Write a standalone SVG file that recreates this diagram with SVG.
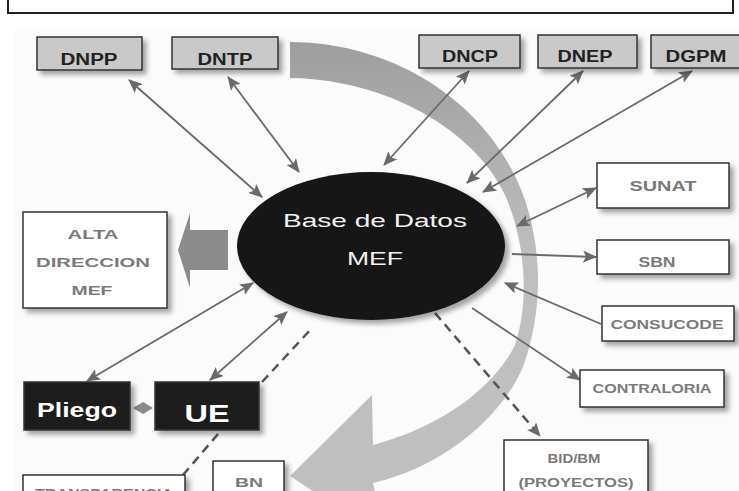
<svg xmlns="http://www.w3.org/2000/svg" width="739" height="491" viewBox="0 0 739 491">
<style>
.box{stroke:#333;stroke-width:1.5}
.gbox{fill:#c9c9c9}
.wbox{fill:#fff}
.kbox{fill:#1c1c1c}
.t{font-family:"Liberation Sans",Arial,sans-serif;text-anchor:middle}
.tb{font-weight:bold;fill:#222;font-size:16px}
.tg{font-weight:bold;fill:#7a7a7a}
.tw{font-weight:bold;fill:#fff}
.ln{stroke:#6a6a6a;stroke-width:1.8;fill:none}
.dash{stroke:#555;stroke-width:2.5;stroke-dasharray:9 6;fill:none}
</style>
<defs>
<filter id="sh" x="-20%" y="-20%" width="150%" height="160%">
<feDropShadow dx="4" dy="4" stdDeviation="2.5" flood-color="#000" flood-opacity="0.35"/>
</filter>
<linearGradient id="bandg" gradientUnits="userSpaceOnUse" x1="0" y1="42" x2="0" y2="260">
<stop offset="0" stop-color="#9e9e9e"/>
<stop offset="1" stop-color="#bfbfbf"/>
</linearGradient>
<marker id="ah" markerWidth="14" markerHeight="12" refX="13" refY="6" orient="auto-start-reverse" markerUnits="userSpaceOnUse">
<path d="M0,0 L14,6 L0,12 L3,6 z" fill="#6a6a6a"/>
</marker>
</defs>
<rect x="0" y="0" width="739" height="491" fill="#fff"/>
<rect x="15" y="28" width="724" height="463" fill="#fbfbfb"/>
<path d="M8,0 V13 H733 V0" fill="none" stroke="#222" stroke-width="2"/>

<g id="bigArrow">
<path d="M290,42 C390,42 490,100 525,200 C545,260 540,320 523,367 C500,420 440,468 373,483 L386,540 L290,476 L372,395 L373,445 C430,430 490,395 515,345 C530,300 525,240 505,195 C480,140 400,80 290,78 Z" fill="url(#bandg)"/>
</g>
<g id="leftArrow">
<polygon points="228,230 190,230 190,213 178,250 190,288 190,270 228,270" fill="#8c8c8c"/>
</g>

<g id="connectors">
<line class="ln" x1="129" y1="80" x2="262" y2="197" marker-start="url(#ah)" marker-end="url(#ah)"/>
<line class="ln" x1="228" y1="77" x2="299" y2="172" marker-start="url(#ah)" marker-end="url(#ah)"/>
<line class="ln" x1="469" y1="71" x2="384" y2="165" marker-start="url(#ah)" marker-end="url(#ah)"/>
<line class="ln" x1="583" y1="71" x2="467" y2="183" marker-start="url(#ah)" marker-end="url(#ah)"/>
<line class="ln" x1="692" y1="71" x2="483" y2="192" marker-start="url(#ah)" marker-end="url(#ah)"/>
<line class="ln" x1="517" y1="226" x2="596" y2="188" marker-start="url(#ah)" marker-end="url(#ah)"/>
<line class="ln" x1="512" y1="254" x2="596" y2="257" marker-end="url(#ah)"/>
<line class="ln" x1="601" y1="324" x2="505" y2="283" marker-end="url(#ah)"/>
<line class="ln" x1="472" y1="308" x2="580" y2="380" marker-end="url(#ah)"/>
<line class="dash" x1="435" y1="313" x2="540" y2="436" marker-end="url(#ah)"/>
<line class="ln" x1="87" y1="381" x2="253" y2="283" marker-start="url(#ah)" marker-end="url(#ah)"/>
<line class="ln" x1="210" y1="380" x2="287" y2="312" marker-start="url(#ah)" marker-end="url(#ah)"/>
<line class="dash" x1="262" y1="382" x2="313" y2="327"/>
<line class="dash" x1="218" y1="434" x2="183" y2="475"/>
<polygon points="133,408 143,402 153,408 143,414" fill="#8a8a8a"/>
</g>

<g id="db" filter="url(#sh)">
<ellipse cx="371" cy="246" rx="134" ry="74" fill="#141414"/>
</g>
<g id="db-text">
<text class="t" x="375" y="227" font-size="19" fill="#f2f2f2" textLength="184" lengthAdjust="spacingAndGlyphs">Base de Datos</text>
<text class="t" x="375" y="265" font-size="19" fill="#f2f2f2" textLength="56" lengthAdjust="spacingAndGlyphs">MEF</text>
</g>

<g id="DNPP"><rect class="box gbox" x="37" y="37" width="105" height="33" filter="url(#sh)"/><text class="t tb" x="89" y="65" textLength="57" lengthAdjust="spacingAndGlyphs">DNPP</text></g>
<g id="DNTP"><rect class="box gbox" x="172" y="37" width="106" height="32" filter="url(#sh)"/><text class="t tb" x="225" y="65" textLength="55" lengthAdjust="spacingAndGlyphs">DNTP</text></g>
<g id="DNCP"><rect class="box gbox" x="419" y="35" width="101" height="33" filter="url(#sh)"/><text class="t tb" x="470" y="62" textLength="56" lengthAdjust="spacingAndGlyphs">DNCP</text></g>
<g id="DNEP"><rect class="box gbox" x="538" y="35" width="99" height="33" filter="url(#sh)"/><text class="t tb" x="585" y="62" textLength="55" lengthAdjust="spacingAndGlyphs">DNEP</text></g>
<g id="DGPM"><rect class="box gbox" x="651" y="35" width="95" height="33" filter="url(#sh)"/><text class="t tb" x="696" y="62" textLength="61" lengthAdjust="spacingAndGlyphs">DGPM</text></g>

<g id="SUNAT"><rect class="box wbox" x="597" y="163" width="132" height="45" filter="url(#sh)"/><text class="t tg" x="663" y="191" font-size="15" textLength="67" lengthAdjust="spacingAndGlyphs">SUNAT</text></g>
<g id="SBN"><rect class="box wbox" x="597" y="240" width="132" height="34" filter="url(#sh)"/><text class="t tg" x="657" y="267" font-size="15" textLength="37" lengthAdjust="spacingAndGlyphs">SBN</text></g>
<g id="CONSUCODE"><rect class="box wbox" x="602" y="306" width="132" height="35" filter="url(#sh)"/><text class="t tg" x="667" y="329" font-size="13" textLength="113" lengthAdjust="spacingAndGlyphs">CONSUCODE</text></g>
<g id="CONTRALORIA"><rect class="box wbox" x="580" y="370" width="144" height="37" filter="url(#sh)"/><text class="t tg" x="652" y="393" font-size="13" textLength="119" lengthAdjust="spacingAndGlyphs">CONTRALORIA</text></g>
<g id="BIDBM"><rect class="box wbox" x="504" y="440" width="144" height="60" filter="url(#sh)"/><text class="t tg" x="574" y="463" font-size="12" textLength="53" lengthAdjust="spacingAndGlyphs">BID/BM</text><text class="t tg" x="576" y="487" font-size="13" textLength="115" lengthAdjust="spacingAndGlyphs">(PROYECTOS)</text></g>

<g id="ALTA"><rect class="box wbox" x="23" y="212" width="144" height="96" filter="url(#sh)"/><text class="t tg" x="93" y="239" font-size="13" textLength="51" lengthAdjust="spacingAndGlyphs">ALTA</text><text class="t tg" x="93" y="267" font-size="13" textLength="114" lengthAdjust="spacingAndGlyphs">DIRECCION</text><text class="t tg" x="92" y="295" font-size="13" textLength="41" lengthAdjust="spacingAndGlyphs">MEF</text></g>

<g id="Pliego"><rect class="box kbox" x="24" y="382" width="106" height="48" filter="url(#sh)"/><text class="t tw" x="77" y="417" font-size="20" textLength="80" lengthAdjust="spacingAndGlyphs">Pliego</text></g>
<g id="UE"><rect class="box kbox" x="155" y="382" width="104" height="48" filter="url(#sh)"/><text class="t tw" x="207" y="422" font-size="23" textLength="45" lengthAdjust="spacingAndGlyphs">UE</text></g>

<g id="TRANSPARENCIA"><rect class="box wbox" x="23" y="475" width="162" height="30" filter="url(#sh)"/><text class="t tg" x="104" y="498" font-size="13" textLength="138" lengthAdjust="spacingAndGlyphs">TRANSPARENCIA</text></g>
<g id="BN"><rect class="box wbox" x="213" y="461" width="71" height="40" filter="url(#sh)"/><text class="t tg" x="249" y="487" font-size="13" textLength="28" lengthAdjust="spacingAndGlyphs">BN</text></g>
</svg>
